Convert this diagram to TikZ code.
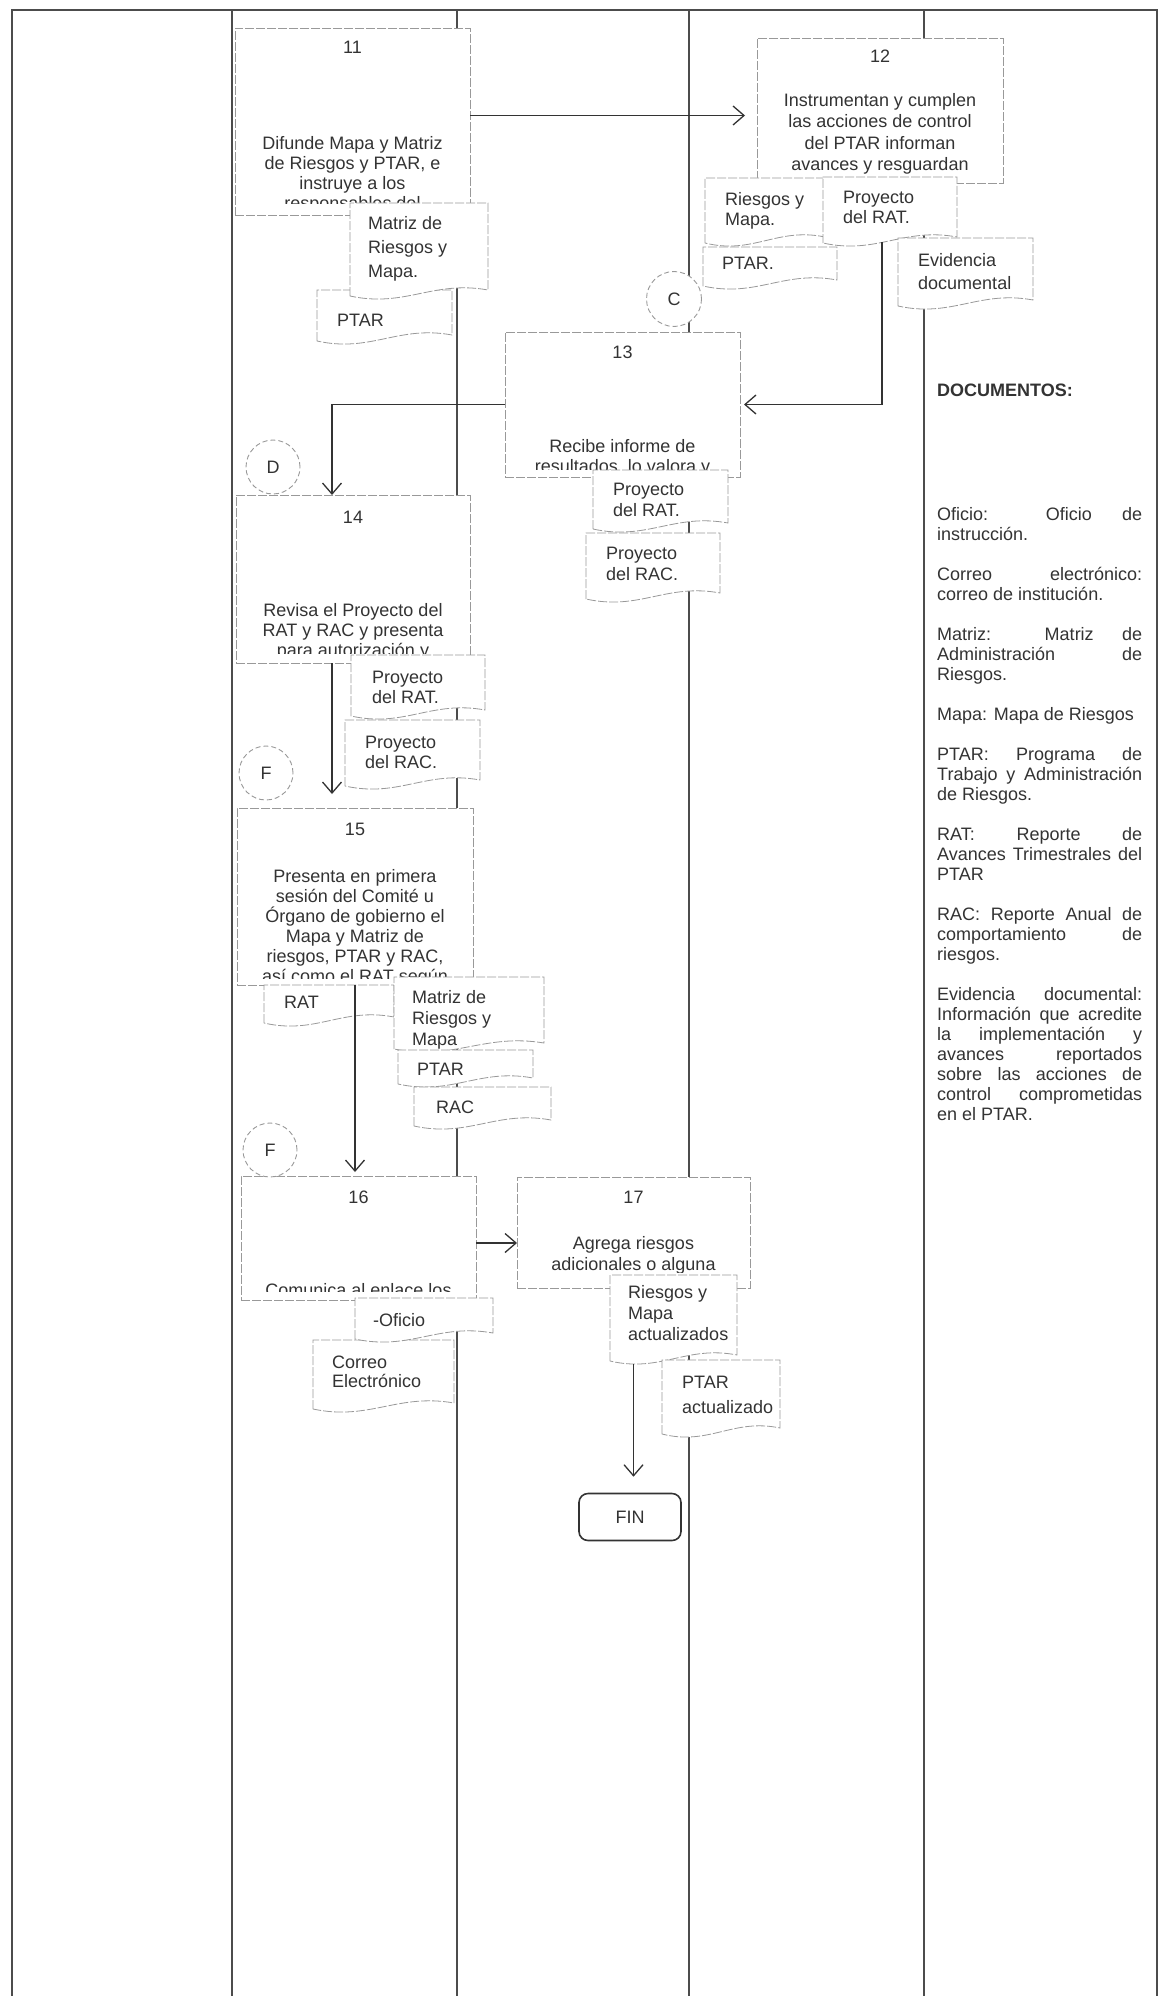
\documentclass[tikz,border=0pt]{standalone}
\usepackage{fontspec}
\setmainfont{Liberation Sans}
\usetikzlibrary{arrows.meta,calc}
\definecolor{ink}{gray}{0.2}
\definecolor{lanec}{gray}{0.3}
\definecolor{edgec}{gray}{0.6}
\newcommand\fs{\rule{0pt}{14pt}}
\newcommand\jl[1]{\makebox[205pt][s]{#1}}
\tikzset{
  lanestyle/.style={draw=lanec, line width=1.4pt},
  procbox/.style={draw=edgec, fill=white, line width=0.8pt, dash pattern=on 9pt off 2pt, inner sep=0pt, outer sep=0pt, anchor=north west},
  proctext/.style={text=ink, font=\fontsize{18}{20}\selectfont, align=center, inner sep=0pt, anchor=north},
  numtext/.style={text=ink, font=\fontsize{18}{20}\selectfont, inner sep=0pt, anchor=base},
  docframe/.style={inner sep=0pt, outer sep=0pt, anchor=north west},
  docline/.style={draw=edgec, fill=white, line width=0.8pt, dash pattern=on 9pt off 2pt},
  doctext/.style={text=ink, font=\fontsize{18}{21}\selectfont, align=left, inner sep=0pt, anchor=north west},
  conn/.style={draw=ink, line width=1.3pt, -{Straight Barb[length=11pt,width=19pt]}},
  offpage/.style={circle, draw=edgec, fill=white, line width=0.9pt, dash pattern=on 5pt off 3pt, minimum size=55pt, inner sep=0pt, text=ink, font=\fontsize{18}{20}\selectfont},
  finbox/.style={draw=ink, fill=white, rounded corners=9pt, line width=1.6pt, minimum width=102pt, minimum height=47pt, inner sep=0pt, text=ink, font=\fontsize{18}{20}\selectfont},
  paneltext/.style={text=ink, font=\fontsize{18}{20}\selectfont, align=left, inner sep=0pt, anchor=north west},
  headtext/.style={text=ink, font=\fontsize{18}{20}\selectfont\bfseries, inner sep=0pt, anchor=base west}
}
\newcommand\pbox[5]{%
  \pgfmathsetmacro\myW{#4-#2}\pgfmathsetmacro\myH{#5-#3}%
  \node[procbox, minimum width=\myW pt, minimum height=\myH pt] (#1) at (#2,#3) {};}
\newcommand\docshape[8]{%
  \pgfmathsetmacro\myW{#4-#2}\pgfmathsetmacro\myH{#5-#3}%
  \node[docframe, minimum width=\myW pt, minimum height=\myH pt] (#1) at (#2,#3) {};
  \path[docline] (#2,{#5-4}) -- (#2,#3) -- (#4,#3) -- (#4,{#5-10})
     .. controls ({#2+0.6*\myW},{#5-20}) and ({#2+0.4*\myW},{#5+8}) .. cycle;
  \node[doctext] (#1t) at (#6,{#7-14}) {\fs #8};}
\begin{document}
\begin{tikzpicture}[x=1pt,y=-1pt]
\useasboundingbox (0,0) rectangle (1164,1996);
\fill[white] (0,0) rectangle (1164,1996);
% swimlanes
\foreach \lx in {12,232,457,689,924,1157} \draw[lanestyle] (\lx,10) -- (\lx,1996);
\draw[lanestyle, line width=2pt] (11,10) -- (1158,10);

% ---- process boxes ----
\pbox{b11}{235}{28}{470}{215}
\node[numtext] (n11) at (352.5,54) {11};
\begin{scope}\clip (235,28) rectangle (470,204);
\node[proctext] (t11) at (352.5,135) {\fs Difunde Mapa y Matriz\\de Riesgos y PTAR, e\\instruye a los\\responsables del};
\end{scope}

\pbox{b12}{757}{38}{1003}{183}
\node[numtext] (n12) at (880,63) {12};
\node[proctext] (t12) at (880,92) {\fs Instrumentan y cumplen\\[1.5pt]las acciones de control\\[1.5pt]del PTAR informan\\[1.5pt]avances y resguardan};

\pbox{b13}{505}{332}{740}{477}
\node[numtext] (n13) at (622.5,358) {13};
\begin{scope}\clip (505,332) rectangle (740,469);
\node[proctext] (t13) at (622.5,438) {\fs Recibe informe de\\resultados, lo valora y};
\end{scope}

\pbox{b14}{236}{495}{470}{663}
\node[numtext] (n14) at (353,523) {14};
\begin{scope}\clip (236,495) rectangle (470,653);
\node[proctext] (t14) at (353,602) {\fs Revisa el Proyecto del\\RAT y RAC y presenta\\para autorización y};
\end{scope}

\pbox{b15}{237}{808}{473}{985}
\node[numtext] (n15) at (355,835) {15};
\begin{scope}\clip (237,808) rectangle (473,978);
\node[proctext] (t15) at (355,868) {\fs Presenta en primera\\sesión del Comité u\\Órgano de gobierno el\\Mapa y Matriz de\\riesgos, PTAR y RAC,\\así como el RAT según};
\end{scope}

\pbox{b16}{241}{1176}{476}{1300}
\node[numtext] (n16) at (358.5,1203) {16};
\begin{scope}\clip (241,1176) rectangle (476,1291);
\node[proctext] (t16) at (358.5,1282) {\fs Comunica al enlace los};
\end{scope}

\pbox{b17}{517}{1177}{750}{1288}
\node[numtext] (n17) at (633.5,1203) {17};
\begin{scope}\clip (517,1177) rectangle (750,1272);
\node[proctext] (t17) at (633.5,1235) {\fs Agrega riesgos\\[1pt]adicionales o alguna};
\end{scope}

% ---- documents ----
\docshape{d11b}{317}{290}{452}{345}{337}{326}{PTAR}
\docshape{d11a}{350}{203}{488}{300}{368}{229}{Matriz de\\[3pt]Riesgos y\\[3pt]Mapa.}

\docshape{d12c}{703}{247}{837}{290}{722}{269}{PTAR.}
\docshape{d12a}{705}{178}{825}{247}{725}{205}{Riesgos y\\[-1pt]Mapa.}
\docshape{d12b}{823}{177}{957}{247}{843}{203}{Proyecto\\[-1pt]del RAT.}
\docshape{d12d}{898}{238}{1033}{310}{918}{266}{Evidencia\\[2pt]documental}

\docshape{d13b}{586}{533}{720}{603}{606}{559}{Proyecto\\del RAC.}
\docshape{d13a}{593}{470}{728}{533}{613}{495}{Proyecto\\del RAT.}

\docshape{d14b}{345}{720}{480}{790}{365}{748}{Proyecto\\[-1pt]del RAC.}
\docshape{d14a}{351}{655}{485}{720}{372}{683}{Proyecto\\[-1pt]del RAT.}

\docshape{d15a}{264}{985}{394}{1027}{284}{1008}{RAT}
\docshape{d15b}{394}{977}{544}{1053}{412}{1003}{Matriz de\\Riesgos y\\Mapa}
\docshape{d15c}{398}{1050}{533}{1088}{417}{1075}{PTAR}
\docshape{d15d}{414}{1087}{551}{1130}{436}{1113}{RAC}

\docshape{d16b}{313}{1340}{454}{1413}{332}{1368}{Correo\\[-2pt]Electrónico}
\docshape{d16a}{355}{1298}{493}{1343}{373}{1326}{-Oficio}

\docshape{d17a}{610}{1275}{737}{1365}{628}{1298}{Riesgos y\\Mapa\\actualizados}
\docshape{d17b}{662}{1360}{780}{1438}{682}{1388}{PTAR\\[4pt]actualizado}

% ---- terminator and off-page connectors ----
\node[finbox] (fin) at (630,1517) {FIN};
\node[offpage] (cC) at (674,299) {C};
\node[offpage, minimum size=54pt] (cD) at (273,467) {D};
\node[offpage, minimum size=54pt] (cF1) at (266,773) {F};
\node[offpage, minimum size=54pt] (cF2) at (270,1150) {F};

% ---- connectors ----
\coordinate (a1) at ([yshift=6pt]b11.east);
\draw[conn, shorten >=12pt] (a1) -- (a1 -| b12.west);
\coordinate (a2) at ([xshift=-8pt,yshift=5pt]d12b.south);
\draw[conn, shorten >=4pt] (a2) |- (b13.east);
\coordinate (a3) at ([xshift=-21pt]b14.north);
\draw[conn] (b13.west) -| (a3);
\coordinate (a4) at ([xshift=-21pt]b14.south);
\draw[conn, shorten >=14pt] (a4) -- (a4 |- b15.north);
\draw[conn, shorten >=4pt] (b15.south) -- (b15.south |- b16.north);
\coordinate (a6) at ([yshift=-5pt]b16.east);
\draw[conn] (a6) -- (a6 -| b17.west);
\coordinate (a7) at ([xshift=-40pt,yshift=1pt]d17a.south);
\draw[conn, shorten >=16pt] (a7) -- (a7 |- fin.north);

% ---- right panel ----
\node[headtext] (head) at (937,396) {DOCUMENTOS:};
\node[paneltext] (legend) at (937,506) {\fs\jl{Oficio: Oficio de}\\instrucción.\\[20pt]
\jl{Correo electrónico:}\\correo de institución.\\[20pt]
\jl{Matriz: Matriz de}\\\jl{Administración de}\\Riesgos.\\[20pt]
Mapa: Mapa de Riesgos\\[20pt]
\jl{PTAR: Programa de}\\\jl{Trabajo y Administración}\\de Riesgos.\\[20pt]
\jl{RAT: Reporte de}\\\jl{Avances Trimestrales del}\\PTAR\\[20pt]
\jl{RAC: Reporte Anual de}\\\jl{comportamiento de}\\riesgos.\\[20pt]
\jl{Evidencia documental:}\\\jl{Información que acredite}\\\jl{la implementación y}\\\jl{avances reportados}\\\jl{sobre las acciones de}\\\jl{control comprometidas}\\en el PTAR.};
\end{tikzpicture}
\end{document}
